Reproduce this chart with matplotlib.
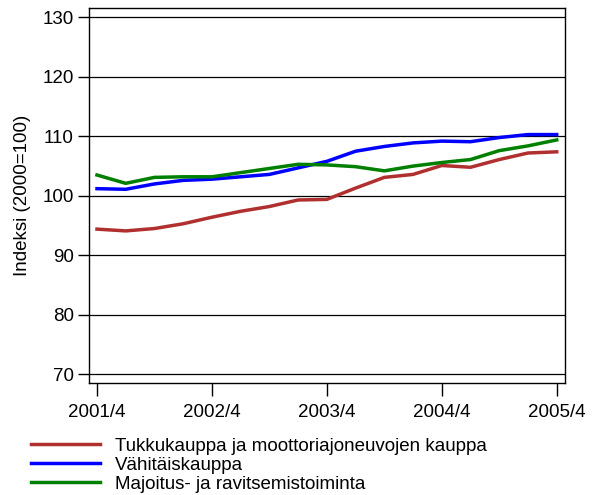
import numpy as np
import matplotlib
matplotlib.use("Agg")
import matplotlib.pyplot as plt

plt.rcParams['font.family'] = ['Liberation Sans', 'DejaVu Sans']

# quarterly index values, 2001/4 .. 2005/4
quarters = ["2001/4", "2002/1", "2002/2", "2002/3", "2002/4", "2003/1", "2003/2", "2003/3",
            "2003/4", "2004/1", "2004/2", "2004/3", "2004/4", "2005/1", "2005/2", "2005/3", "2005/4"]
tukku = [94.4, 94.1, 94.5, 95.3, 96.4, 97.4, 98.2, 99.3, 99.4,
         101.3, 103.1, 103.6, 105.1, 104.8, 106.1, 107.2, 107.4]
vahittais = [101.2, 101.1, 102.0, 102.6, 102.8, 103.2, 103.6, 104.7, 105.8,
             107.5, 108.3, 108.9, 109.2, 109.1, 109.8, 110.3, 110.3]
majoitus = [103.5, 102.1, 103.1, 103.2, 103.2, 103.9, 104.6, 105.3, 105.2,
            104.9, 104.2, 105.0, 105.6, 106.1, 107.6, 108.4, 109.4]
labels = ["Tukkukauppa ja moottoriajoneuvojen kauppa", "Vähitäiskauppa",
          "Majoitus- ja ravitsemistoiminta"]
colors = ["#b03030", "#0000ff", "#008000"]
yticks = [70, 80, 90, 100, 110, 120, 130]

x = np.arange(len(quarters))
fs = 13.5

fig = plt.figure(figsize=(5.97, 4.95), dpi=100)
ax = fig.add_axes([0.149, 0.226, 0.797, 0.758])

for ys in yticks:
    ax.axhline(ys, color="black", lw=0.9, zorder=1)

for series, lab, c in zip([tukku, vahittais, majoitus], labels, colors):
    ax.plot(x, series, color=c, lw=2.5, label=lab, zorder=3)

ax.set_xlim(-0.28, 16.28)
ax.set_ylim(68.5, 131.6)
ax.set_yticks(yticks)
ax.set_xticks(x[::4])
ax.set_xticklabels(quarters[::4])
ax.tick_params(axis="both", labelsize=fs, direction="out", width=1, color="black")
ax.tick_params(axis="y", length=8, pad=3)
ax.tick_params(axis="x", length=9, pad=6)
for sp in ax.spines.values():
    sp.set_linewidth(1)
ax.set_ylabel("Indeksi (2000=100)", fontsize=fs, labelpad=8)

fig.legend(loc="upper left", bbox_to_anchor=(0.052, 0.116), frameon=False,
           fontsize=fs, handlelength=3.7, handletextpad=0.8, labelspacing=0.1,
           borderaxespad=0, borderpad=0)

fig.savefig("out.png", dpi=100)
